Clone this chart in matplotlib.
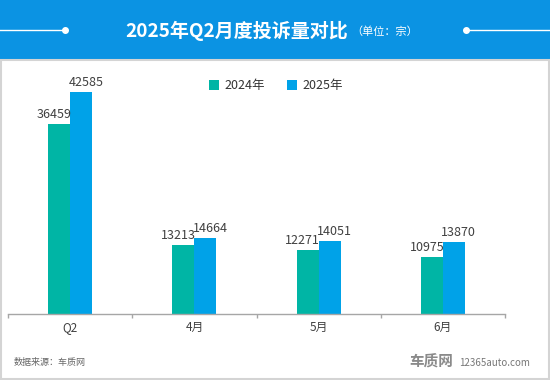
import matplotlib
matplotlib.use("Agg")
import matplotlib.pyplot as plt
from matplotlib.patches import Rectangle, Patch
from matplotlib.lines import Line2D
from matplotlib.transforms import offset_copy

plt.rcParams['font.family'] = ['Noto Sans CJK SC', 'DejaVu Sans']

categories = ['Q2', '4月', '5月', '6月']
series_names = ['2024年', '2025年']
values_2024 = [36459, 13213, 12271, 10975]
values_2025 = [42585, 14664, 14051, 13870]
title = '2025年Q2月度投诉量对比'
unit = '（单位：宗）'
source = '数据来源：车质网'

c24 = '#00b5a5'
c25 = '#00a2e8'
banner = '#0b93e3'

W, H = 550, 380
fig = plt.figure(figsize=(5.5, 3.8), dpi=100)
fig.patch.set_facecolor('white')

def fx(px):
    return px / W

def fy(py):
    return 1 - py / H

# banner
fig.patches.append(Rectangle((0, fy(60)), 1, 60 / H, transform=fig.transFigure,
                             facecolor=banner, edgecolor='none', zorder=0))
# frame
fig.patches.append(Rectangle((fx(1), fy(379)), fx(548), (379 - 60) / H, transform=fig.transFigure,
                             facecolor='none', edgecolor='#d4d4d4', linewidth=1.5, zorder=0))
# decorative lines
fig.lines.append(Line2D([0, fx(65)], [fy(30), fy(30)], transform=fig.transFigure, color='white', lw=1))
fig.lines.append(Line2D([fx(466), 1], [fy(30), fy(30)], transform=fig.transFigure, color='white', lw=1))
fig.lines.append(Line2D([fx(65)], [fy(30)], transform=fig.transFigure, color='white', marker='o', ms=4, lw=0))
fig.lines.append(Line2D([fx(466)], [fy(30)], transform=fig.transFigure, color='white', marker='o', ms=4, lw=0))

fig.text(fx(348), fy(31), title, color='white', fontsize=13.7, fontweight='bold', ha='right', va='center')
fig.text(fx(351), fy(32), unit, color='white', fontsize=8, ha='left', va='center')

ax = fig.add_axes([fx(8), fy(314), fx(505 - 8), (314 - 60) / H])
ax.set_facecolor('none')
ymax = 254 / (222 / 42585)
ax.set_xlim(-0.5, 3.5)
ax.set_ylim(0, ymax)

x = list(range(len(categories)))
bw = 0.177
b1 = ax.bar([i - bw / 2 for i in x], values_2024, width=bw, color=c24, zorder=2)
b2 = ax.bar([i + bw / 2 for i in x], values_2025, width=bw, color=c25, zorder=2)
tr_l = offset_copy(ax.transData, fig=fig, x=1.5, y=3, units='dots')
tr_r = offset_copy(ax.transData, fig=fig, x=-1.5, y=3, units='dots')
for b, v in zip(b1, values_2024):
    ax.text(b.get_x() + b.get_width(), v, str(v), ha='right', va='bottom',
            fontsize=9, color='#404040', transform=tr_l)
for b, v in zip(b2, values_2025):
    ax.text(b.get_x(), v, str(v), ha='left', va='bottom',
            fontsize=9, color='#404040', transform=tr_r)

for s in ['top', 'right', 'left']:
    ax.spines[s].set_visible(False)
ax.spines['bottom'].set_color('#a6a6a6')
ax.spines['bottom'].set_linewidth(1)
ax.set_yticks([])
ax.set_xticks(x)
ax.set_xticklabels(categories, fontsize=8.5, color='#404040')
ax.tick_params(axis='x', which='major', length=0, pad=5)
ax.set_xticks([-0.5, 0.5, 1.5, 2.5, 3.5], minor=True)
ax.tick_params(axis='x', which='minor', length=3, color='#a6a6a6', width=1)

handles = [Patch(facecolor=c24, edgecolor='none'), Patch(facecolor=c25, edgecolor='none')]
fig.legend(handles, series_names, loc='center', bbox_to_anchor=(fx(276), fy(86)), ncol=2,
           frameon=False, fontsize=9, handlelength=0.8, handleheight=0.8, handletextpad=0.5,
           columnspacing=1.7, labelcolor='#333333')

fig.text(fx(14), fy(363), source, fontsize=6.5, color='#666666', ha='left', va='center')
fig.text(fx(409), fy(362), '车质网', fontsize=10.5, fontweight='bold', color='#8a8a8a', ha='left', va='center')
fig.text(fx(459), fy(363), '12365auto.com', fontsize=7, color='#777777', ha='left', va='center')

fig.savefig('out.png', dpi=100)
